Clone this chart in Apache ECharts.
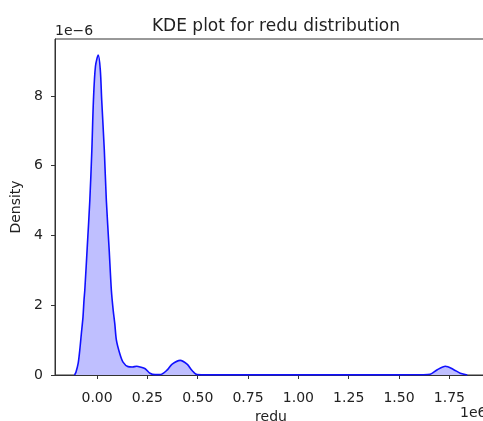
<!DOCTYPE html>
<html>
<head>
<meta charset="utf-8">
<script src="https://cdn.jsdelivr.net/npm/echarts@6/dist/echarts.min.js"></script>
<style>html,body{margin:0;padding:0;background:#fff}#c{width:483px;height:421px}</style>
</head>
<body>
<div id="c"></div>
<script>
// x in units of 1e6, density in units of 1e-6
var kdeX = [-0.112,-0.105,-0.094,-0.086,-0.078,-0.070,-0.065,-0.061,-0.048,-0.036,-0.026,-0.018,-0.008,0.006,0.016,0.023,0.036,0.046,0.060,0.071,0.080,0.088,0.096,0.113,0.129,0.154,0.175,0.197,0.214,0.239,0.263,0.288,0.313,0.346,0.373,0.413,0.447,0.472,0.497,0.55,0.75,1.00,1.25,1.50,1.62,1.655,1.69,1.73,1.77,1.804,1.839];
var kdeY = [0.0,0.08,0.33,0.71,1.19,1.66,2.14,2.43,3.75,5.01,6.44,7.88,8.85,9.17,8.75,7.88,6.44,5.01,3.60,2.43,1.86,1.47,1.00,0.61,0.37,0.24,0.23,0.25,0.23,0.18,0.05,0.01,0.01,0.13,0.31,0.42,0.31,0.13,0.01,0.005,0.005,0.005,0.005,0.005,0.006,0.02,0.15,0.25,0.16,0.05,0.0];
var xTicks = [0,0.25,0.5,0.75,1.0,1.25,1.5,1.75];
var yTicks = [0,2,4,6,8];
var titleText = 'KDE plot for redu distribution';
var xName = 'redu', yName = 'Density';

var data = kdeX.map(function(x,i){return [x,kdeY[i]];});
var chart = echarts.init(document.getElementById('c'));
var font = 'DejaVu Sans';
chart.setOption({
  animation:false,
  title:{text:titleText,left:271,textAlign:'center',top:13,
    textStyle:{fontFamily:font,fontSize:17,fontWeight:'normal',color:'#222'}},
  grid:{left:55,right:-4,top:39,bottom:46,outerBoundsMode:'none',containLabel:false,
    show:true,borderColor:'#333',borderWidth:1,backgroundColor:'transparent'},
  xAxis:{type:'value',min:-0.209,max:1.937,
    name:xName,nameLocation:'middle',nameGap:33,
    nameTextStyle:{fontFamily:font,fontSize:14,color:'#222'},
    axisLine:{show:true,onZero:false,lineStyle:{color:'#333',width:1}},
    axisTick:{show:true,length:4,lineStyle:{color:'#333'},customValues:xTicks},
    axisLabel:{fontFamily:font,fontSize:14,color:'#222',margin:16,customValues:xTicks,
      formatter:function(v){return v.toFixed(2);}},
    splitLine:{show:false}},
  yAxis:{type:'value',min:0,max:9.63,
    name:yName,nameLocation:'middle',nameGap:27,
    nameTextStyle:{fontFamily:font,fontSize:14,color:'#222'},
    axisLine:{show:true,onZero:false,lineStyle:{color:'#333',width:1}},
    axisTick:{show:true,length:4,lineStyle:{color:'#333'},customValues:yTicks},
    axisLabel:{fontFamily:font,fontSize:14,color:'#222',margin:12,customValues:yTicks},
    splitLine:{show:false}},
  graphic:[
    {type:'text',left:55,top:24,style:{text:'1e\u22126',fontFamily:font,fontSize:14,fill:'#222'}},
    {type:'text',left:460,top:406,style:{text:'1e6',fontFamily:font,fontSize:14,fill:'#222'}}
  ],
  series:[{type:'line',data:data,smooth:0.3,symbol:'none',
    lineStyle:{color:'#1010ff',width:1.6},
    areaStyle:{color:'#bfbfff',opacity:1}}]
});
</script>
</body>
</html>
